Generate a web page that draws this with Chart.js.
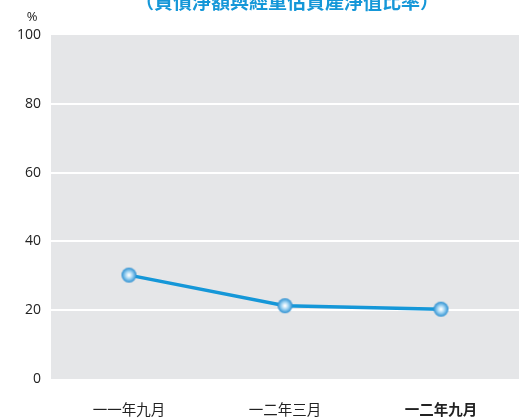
<!DOCTYPE html>
<html>
<head>
<meta charset="utf-8">
<script src="https://cdn.jsdelivr.net/npm/chart.js@4/dist/chart.umd.min.js"></script>
<style>
  html, body { margin: 0; padding: 0; background: #fff; }
  #wrap { width: 519px; height: 419px; }
</style>
</head>
<body>
<div id="wrap"><canvas id="ratioChart" width="519" height="419"></canvas></div>
<script>
// data
const categories = ['一一年九月', '一二年三月', '一二年九月'];
const ratioValues = [30.2, 21.3, 20.3];
const yTicks = [0, 20, 40, 60, 80, 100];
const titleText = '（負債淨額與經重估資產淨值比率）';

const blue = '#1597d8';

// little shaded ball used for the points
function makeBall(r) {
    const c = document.createElement('canvas');
    c.width = c.height = r * 2 + 2;
    const g = c.getContext('2d');
    const cx = r + 1;
    const grad = g.createRadialGradient(cx, cx, 0.5, cx, cx, r);
    grad.addColorStop(0, '#ffffff');
    grad.addColorStop(0.45, '#9fd3f2');
    grad.addColorStop(1, '#2a8ed0');
    g.fillStyle = grad;
    g.beginPath();
    g.arc(cx, cx, r, 0, Math.PI * 2);
    g.fill();
    return c;
}
const ball = makeBall(7.5);

// grey plot background + title + % label
const decor = {
    id: 'decor',
    beforeDraw(chart) {
        const ctx = chart.ctx, a = chart.chartArea;
        ctx.save();
        ctx.fillStyle = '#e5e6e8';
        ctx.fillRect(a.left, a.top, a.right - a.left, a.bottom - a.top);
        ctx.restore();
    },
    afterDraw(chart) {
        const ctx = chart.ctx;
        ctx.save();
        ctx.fillStyle = blue;
        ctx.font = 'bold 19px "Noto Sans CJK TC"';
        ctx.textAlign = 'center';
        ctx.textBaseline = 'middle';
        ctx.fillText(titleText, 287, 2);
        ctx.fillStyle = '#222';
        ctx.font = '13px "Open Sans"';
        ctx.fillText('%', 32, 17);
        ctx.restore();
    }
};

var ratioChart = new Chart(document.getElementById('ratioChart').getContext('2d'), {
    type: 'line',
    data: {
        labels: categories,
        datasets: [{
            data: ratioValues,
            borderColor: blue,
            borderWidth: 3.5,
            pointStyle: ball,
            pointRadius: 8,
            pointHoverRadius: 8,
            fill: false,
            tension: 0
        }]
    },
    options: {
        responsive: false,
        animation: false,
        layout: { autoPadding: false, padding: { top: 35, right: 0, left: 0, bottom: 0 } },
        plugins: {
            legend: { display: false },
            tooltip: { enabled: false }
        },
        scales: {
            x: {
                offset: true,
                grid: { display: false, drawTicks: false },
                border: { display: false },
                afterFit: (s) => { s.height = 40; },
                ticks: {
                    padding: 22,
                    color: '#222',
                    font: (c) => c.index === 2
                        ? { family: '"Noto Sans CJK TC"', size: 14.5, weight: 'bold' }
                        : { family: '"Noto Sans CJK TC"', size: 14.5 }
                }
            },
            y: {
                min: 0,
                max: 100,
                afterFit: (s) => { s.width = 51; },
                afterBuildTicks: (s) => { s.ticks = yTicks.map(v => ({ value: v })); },
                grid: {
                    drawTicks: false,
                    lineWidth: 2,
                    color: (c) => (c.tick && (c.tick.value === 0 || c.tick.value === 100)) ? 'rgba(0,0,0,0)' : '#ffffff'
                },
                border: { display: false },
                ticks: {
                    padding: 10,
                    color: '#222',
                    font: { family: '"Open Sans"', size: 14 }
                }
            }
        }
    },
    plugins: [decor]
});
</script>
</body>
</html>
